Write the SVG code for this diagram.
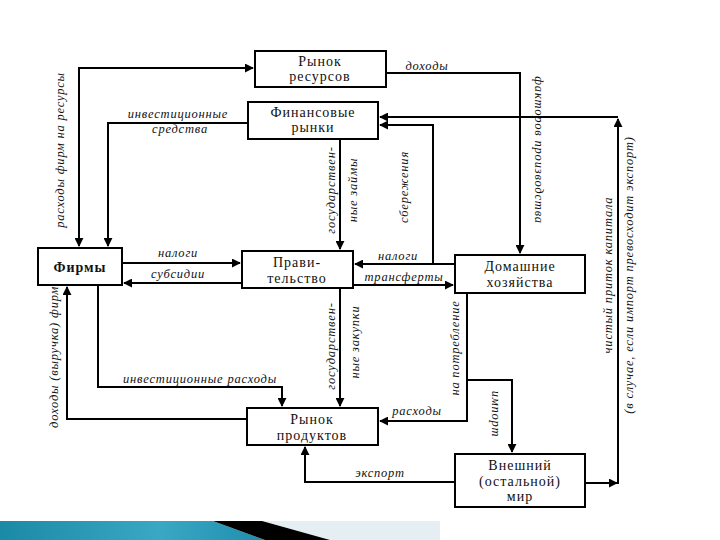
<svg xmlns="http://www.w3.org/2000/svg" width="720" height="540" viewBox="0 0 720 540">
<defs>
<marker id="ah" viewBox="0 0 10 10" refX="9" refY="5" markerWidth="9" markerHeight="9" markerUnits="userSpaceOnUse" orient="auto-start-reverse">
<path d="M0,0 L10,5 L0,10 Z" fill="#000"/>
</marker>
<linearGradient id="teal" x1="0" y1="0" x2="1" y2="0">
<stop offset="0" stop-color="#1b8aa6"/>
<stop offset="0.6" stop-color="#3aa7c4"/>
<stop offset="1" stop-color="#1f8fae"/>
</linearGradient>
<style>
.box{fill:#fff;stroke:#000;stroke-width:2}
.bt{font-size:14px;letter-spacing:1px;text-anchor:middle;fill:#111}
.ln{fill:none;stroke:#000;stroke-width:2}
.lb{font-style:italic;font-size:12.5px;letter-spacing:0.8px;fill:#111;text-anchor:middle}
</style>
</defs>
<rect width="720" height="540" fill="#fff"/>

<g id="connectors" font-family="'Liberation Serif', 'Times New Roman', serif">
<path class="ln" d="M79,246 V68 H253" marker-start="url(#ah)" marker-end="url(#ah)"/>
<path class="ln" d="M248,123 H108 V246" marker-end="url(#ah)"/>
<path class="ln" d="M386,73 H520 V253" marker-end="url(#ah)"/>
<path class="ln" d="M585,483 H617" marker-end="url(#ah)"/>
<path class="ln" d="M618,484 V119" marker-end="url(#ah)"/>
<path class="ln" d="M618,117 H380" marker-end="url(#ah)"/>
<path class="ln" d="M455,264 H355" marker-end="url(#ah)"/>
<path class="ln" d="M433,264 V125 H380" marker-end="url(#ah)"/>
<path class="ln" d="M122,263 H240" marker-end="url(#ah)"/>
<path class="ln" d="M242,283 H124" marker-end="url(#ah)"/>
<path class="ln" d="M353,285 H453" marker-end="url(#ah)"/>
<path class="ln" d="M340,139 V249" marker-end="url(#ah)"/>
<path class="ln" d="M340,288 V406" marker-end="url(#ah)"/>
<path class="ln" d="M98,285 V387 H282 V406" marker-end="url(#ah)"/>
<path class="ln" d="M247,419 H67 V287" marker-end="url(#ah)"/>
<path class="ln" d="M467,293 V421 H380" marker-end="url(#ah)"/>
<path class="ln" d="M467,380 H512 V452" marker-end="url(#ah)"/>
<path class="ln" d="M455,482 H305 V447" marker-end="url(#ah)"/>

<text class="lb" transform="translate(64,150) rotate(-90)">расходы фирм на ресурсы</text>
<text class="lb" x="178" y="118">инвестиционные</text>
<text class="lb" x="180" y="133">средства</text>
<text class="lb" x="427" y="70">доходы</text>
<text class="lb" transform="translate(535,150) rotate(90)">факторов производства</text>
<text class="lb" transform="translate(335,190) rotate(-90)">государствен-</text>
<text class="lb" transform="translate(357,190) rotate(-90)">ные займы</text>
<text class="lb" transform="translate(408,187) rotate(-90)">сбережения</text>
<text class="lb" x="178" y="257">налоги</text>
<text class="lb" x="178" y="278">субсидии</text>
<text class="lb" x="398" y="260">налоги</text>
<text class="lb" x="404" y="281">трансферты</text>
<text class="lb" transform="translate(335,346) rotate(-90)">государствен-</text>
<text class="lb" transform="translate(359,342) rotate(-90)">ные закупки</text>
<text class="lb" transform="translate(459,348) rotate(-90)">на потребление</text>
<text class="lb" x="200" y="383">инвестиционные расходы</text>
<text class="lb" x="417" y="415">расходы</text>
<text class="lb" transform="translate(492,414) rotate(90)">импорт</text>
<text class="lb" x="380" y="477">экспорт</text>
<text class="lb" transform="translate(58,357) rotate(-90)">доходы (выручка) фирм</text>
<text class="lb" transform="translate(612,275) rotate(-90)">чистый приток капитала</text>
<text class="lb" transform="translate(633,275) rotate(-90)">(в случае, если импорт превосходит экспорт)</text>
</g>

<g font-family="'Liberation Serif', 'Times New Roman', serif">
<g id="rynok-resursov">
<rect class="box" x="255" y="51" width="131" height="36"/>
<text class="bt" x="320" y="66">Рынок</text>
<text class="bt" x="320" y="81">ресурсов</text>
</g>
<g id="finansovye-rynki">
<rect class="box" x="248" y="102" width="130" height="37"/>
<text class="bt" x="313" y="117">Финансовые</text>
<text class="bt" x="313" y="132">рынки</text>
</g>
<g id="firmy">
<rect class="box" x="38" y="248" width="84" height="37"/>
<text class="bt" x="80" y="272" font-weight="bold">Фирмы</text>
</g>
<g id="pravitelstvo">
<rect class="box" x="242" y="251" width="111" height="37"/>
<text class="bt" x="297" y="267">Прави-</text>
<text class="bt" x="297" y="283">тельство</text>
</g>
<g id="domashnie-hozyaystva">
<rect class="box" x="455" y="255" width="130" height="38"/>
<text class="bt" x="520" y="271">Домашние</text>
<text class="bt" x="520" y="287">хозяйства</text>
</g>
<g id="rynok-produktov">
<rect class="box" x="247" y="408" width="131" height="37"/>
<text class="bt" x="312" y="424">Рынок</text>
<text class="bt" x="312" y="440">продуктов</text>
</g>
<g id="vneshniy-mir">
<rect class="box" x="455" y="454" width="130" height="53"/>
<text class="bt" x="520" y="470">Внешний</text>
<text class="bt" x="520" y="486">(остальной)</text>
<text class="bt" x="520" y="501">мир</text>
</g>
</g>

<g id="decor">
<polygon points="262,521 440,521 440,540 330,540" fill="#e4eef3"/>
<polygon points="0,521 213,521 265,540 0,540" fill="url(#teal)"/>
<polygon points="213,521 262,521 330,540 265,540" fill="#000"/>
</g>
</svg>
